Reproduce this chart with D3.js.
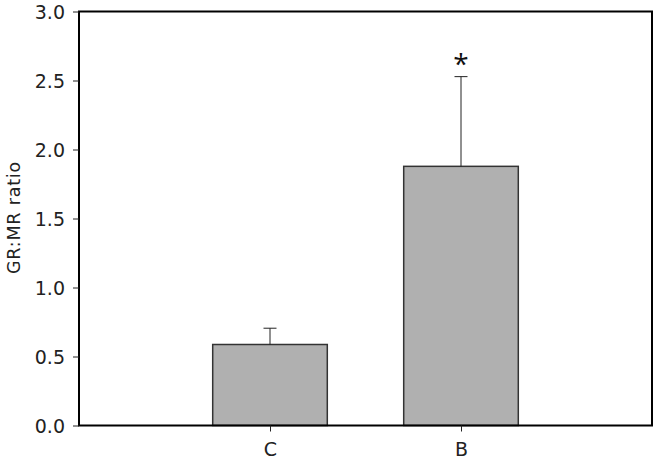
<!DOCTYPE html>
<html><head><meta charset="utf-8">
<script src="https://cdn.jsdelivr.net/npm/d3@7"></script>
<style>body{margin:0;background:#fff}svg{display:block}</style>
</head><body>
<svg id="c" width="655" height="461"></svg>
<script>
const categories = ["C", "B"];
const means = [0.587, 1.878];
const errors = [0.118, 0.650];
const significance = ["", "*"];
const yTicks = [0, 0.5, 1.0, 1.5, 2.0, 2.5, 3.0];

const svg = d3.select("#c");
const m = {l: 79, r: 3, t: 11.5, b: 35.5};
const W = 655, H = 461;
const x = d3.scalePoint().domain(categories).range([m.l, W - m.r]).padding(1);
const y = d3.scaleLinear().domain([0, 3]).range([H - m.b, m.t]);
const bw = x.step() * 0.6;
const font = "'DejaVu Sans', 'Open Sans', sans-serif";

// bars
svg.selectAll("rect.bar").data(categories).join("rect")
  .attr("x", d => x(d) - bw / 2)
  .attr("y", (d, i) => y(means[i]))
  .attr("width", bw)
  .attr("height", (d, i) => y(0) - y(means[i]))
  .attr("fill", "#b0b0b0").attr("stroke", "#333").attr("stroke-width", 1.5);

// error bars
const eb = svg.selectAll("g.eb").data(categories).join("g");
eb.append("line").attr("x1", d => x(d)).attr("x2", d => x(d))
  .attr("y1", (d, i) => y(means[i])).attr("y2", (d, i) => y(means[i] + errors[i]))
  .attr("stroke", "#222").attr("stroke-width", 1);
eb.append("line").attr("x1", d => x(d) - 6.5).attr("x2", d => x(d) + 6.5)
  .attr("y1", (d, i) => y(means[i] + errors[i])).attr("y2", (d, i) => y(means[i] + errors[i]))
  .attr("stroke", "#222").attr("stroke-width", 1);
eb.append("text").attr("x", d => x(d))
  .attr("y", (d, i) => y(means[i] + errors[i]) - 3)
  .attr("text-anchor", "middle").attr("font-family", "'Open Sans', sans-serif").attr("font-size", 28)
  .attr("fill", "#111")
  .text((d, i) => significance[i]);

// frame
svg.append("rect").attr("x", m.l).attr("y", m.t)
  .attr("width", W - m.r - m.l).attr("height", H - m.b - m.t)
  .attr("fill", "none").attr("stroke", "#000").attr("stroke-width", 2);

// y axis
const ya = svg.append("g").attr("transform", `translate(${m.l},0)`)
  .call(d3.axisLeft(y).tickValues(yTicks).tickFormat(d3.format(".1f")).tickSize(6).tickPadding(8));
ya.select(".domain").remove();
ya.selectAll("text").attr("font-family", font).attr("font-size", 19).attr("fill", "#222").attr("dy", "0.36em");
ya.selectAll("line").attr("stroke", "#222");

// x axis
const xa = svg.append("g").attr("transform", `translate(0,${H - m.b})`)
  .call(d3.axisBottom(x).tickSize(6).tickPadding(11));
xa.select(".domain").remove();
xa.selectAll("text").attr("font-family", font).attr("font-size", 19).attr("fill", "#222");
xa.selectAll("line").attr("stroke", "#222");

// y label
svg.append("text").attr("transform", `translate(20,${(m.t + H - m.b) / 2 - 1}) rotate(-90)`)
  .attr("text-anchor", "middle").attr("font-family", font).attr("font-size", 17.5)
  .attr("letter-spacing", 0.8).attr("fill", "#222")
  .text("GR:MR ratio");
</script>
</body></html>
